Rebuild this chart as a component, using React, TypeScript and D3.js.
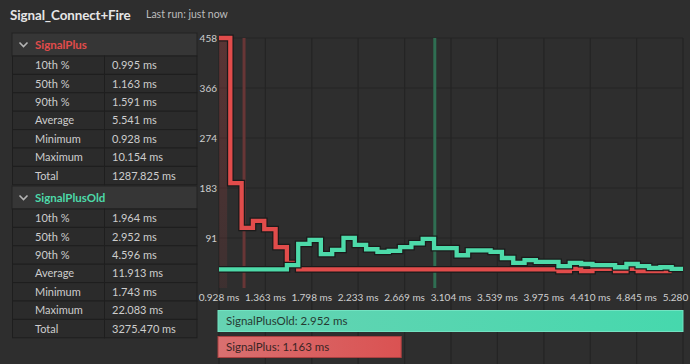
import React from "react";
import * as d3 from "d3";

const FONT = "Lato, 'Noto Sans', sans-serif";

const titleText = "Signal_Connect+Fire";
const subtitleText = "Last run: just now";

const seriesNames = ["SignalPlus", "SignalPlusOld"];
const seriesColors = ["#e14c4b", "#4ddaa9"];
const seriesMedians = [1.163, 2.952];
const signalPlusMin = 0.928;
const signalPlusP10 = 0.995;

const statLabels = ["10th %", "50th %", "90th %", "Average", "Minimum", "Maximum", "Total"];
const signalPlusStats = ["0.995 ms", "1.163 ms", "1.591 ms", "5.541 ms", "0.928 ms", "10.154 ms", "1287.825 ms"];
const signalPlusOldStats = ["1.964 ms", "2.952 ms", "4.596 ms", "11.913 ms", "1.743 ms", "22.083 ms", "3275.470 ms"];

const xTickValues = [0.928, 1.363, 1.798, 2.233, 2.669, 3.104, 3.539, 3.975, 4.41, 4.845, 5.28];
const xTickLabels = ["0.928 ms", "1.363 ms", "1.798 ms", "2.233 ms", "2.669 ms", "3.104 ms", "3.539 ms", "3.975 ms", "4.410 ms", "4.845 ms", "5.280 ms"];
const yTickValues = [91.6, 183.2, 274.8, 366.4, 458];
const yTickLabels = ["91", "183", "274", "366", "458"];

const binCount = 41;

// histogram counts per bin
const signalPlusCounts = [
  458, 192, 110, 123, 108, 75, 46, 34, 34, 34,
  34, 34, 34, 34, 34, 34, 34, 34, 34, 34,
  34, 34, 34, 34, 34, 34, 34, 34, 34, 34,
  31, 35, 31, 35, 35, 31, 35, 31, 31, 31,
];
const signalPlusOldCounts = [
  34, 34, 34, 34, 34, 34, 42, 81, 88, 62,
  70, 92, 79, 71, 66, 68, 75, 82, 90, 73,
  73, 60, 69, 69, 66, 55, 46, 51, 48, 48,
  40, 46, 44, 42, 42, 38, 44, 40, 37, 38,
  35,
];

export default function App() {
  const W = 690;
  const H = 364;
  const x = d3.scaleLinear().domain([xTickValues[0], xTickValues[xTickValues.length - 1]]).range([219, 683]);
  const y = d3.scaleLinear().domain([0, 458]).range([288, 38]);
  const binW = (x.domain()[1] - x.domain()[0]) / binCount;
  const xBar = d3.scaleLinear().domain([0, d3.max(seriesMedians) as number]).range([218, 683]);

  const line = d3.line<[number, number]>().curve(d3.curveStepAfter);
  const toPts = (counts: number[]): [number, number][] => {
    const pts: [number, number][] = counts.map((c, i) => [x(x.domain()[0] + i * binW), y(c)]);
    pts.push([x(x.domain()[0] + counts.length * binW), y(counts[counts.length - 1])]);
    return pts;
  };
  const series = [signalPlusCounts, signalPlusOldCounts];

  const rowH = 18.4;
  const tables = [
    { name: seriesNames[0], color: seriesColors[0], stats: signalPlusStats, top: 33 },
    { name: seriesNames[1], color: seriesColors[1], stats: signalPlusOldStats, top: 186 },
  ];

  return (
    <div style={{ position: "fixed", left: 0, top: 0, width: W, height: H, background: "#2e2e2e", overflow: "hidden" }}>
      <svg width={W} height={H} style={{ display: "block", fontFamily: FONT }}>
        <defs>
          <linearGradient id="shade" x1="0" y1="0" x2="0" y2="1">
            <stop offset="0" stopColor="#c84646" stopOpacity={0.28} />
            <stop offset="1" stopColor="#c84646" stopOpacity={0.1} />
          </linearGradient>
          <linearGradient id="gBar" x1="0" y1="0" x2="1" y2="0">
            <stop offset="0" stopColor="#66d3b3" />
            <stop offset="1" stopColor="#46d8ad" />
          </linearGradient>
          <linearGradient id="rBar" x1="0" y1="0" x2="1" y2="0">
            <stop offset="0" stopColor="#d97070" />
            <stop offset="1" stopColor="#da5252" />
          </linearGradient>
        </defs>
        <rect x={0} y={0} width={W} height={H} fill="#2e2e2e" />

        {/* Title */}
        <text x={10} y={19.5} fill="#e6e6e6" fontSize={13.4} fontWeight={700} letterSpacing={-0.1}>{titleText}</text>
        <text x={146} y={18} fill="#bdbdbd" fontSize={10.5}>{subtitleText}</text>

        {/* Tables */}
        {tables.map((t, ti) => (
          <g key={ti}>
            <rect x={12} y={t.top} width={185} height={23} fill="#363636" stroke="#222" />
            <path d={`M19.5,${t.top + 9.5} L23.5,${t.top + 13.5} L27.5,${t.top + 9.5}`} fill="none" stroke="#b5b5b5" strokeWidth={1.6} />
            <text x={35} y={t.top + 15.5} fill={t.color} fontSize={11.5} fontWeight={700}>{t.name}</text>
            {statLabels.map((lab, i) => {
              const ry = t.top + 23 + i * rowH;
              return (
                <g key={i}>
                  <rect x={12.5} y={ry} width={92} height={rowH} fill="#2b2b2b" stroke="#1e1e1e" />
                  <rect x={104.5} y={ry} width={92.5} height={rowH} fill="#2b2b2b" stroke="#1e1e1e" />
                  <text x={35} y={ry + rowH / 2 + 4} fill="#cdcdcd" fontSize={11}>{lab}</text>
                  <text x={112} y={ry + rowH / 2 + 4} fill="#cdcdcd" fontSize={11}>{t.stats[i]}</text>
                </g>
              );
            })}
          </g>
        ))}

        {/* grid */}
        {xTickValues.map((v, i) => (
          <line key={"vx" + i} x1={x(v)} x2={x(v)} y1={38} y2={H} stroke="#242424" strokeWidth={1.2} />
        ))}
        {yTickValues.map((v, i) => (
          <line key={"hy" + i} x1={219} x2={683} y1={y(v)} y2={y(v)} stroke="#242424" strokeWidth={1.2} />
        ))}

        {/* shaded range (min..p10 of SignalPlus) */}
        <rect x={x(signalPlusMin)} y={38} width={x(signalPlusP10) - x(signalPlusMin) + 1} height={250} fill="url(#shade)" />

        {/* median markers */}
        <line x1={x(seriesMedians[0])} x2={x(seriesMedians[0])} y1={38} y2={288} stroke="#683636" strokeWidth={3} />
        <line x1={x(seriesMedians[1])} x2={x(seriesMedians[1])} y1={38} y2={288} stroke="#2f6e52" strokeWidth={3} />

        {/* axis labels */}
        {yTickValues.map((v, i) => (
          <text key={"yl" + i} x={217} y={y(v) + 3.5} textAnchor="end" fill="#cfcfcf" fontSize={10}>{yTickLabels[i]}</text>
        ))}
        {xTickValues.map((v, i) => (
          <text key={"xl" + i} x={x(v)} y={301} textAnchor="middle" fill="#cfcfcf" fontSize={10}>{xTickLabels[i]}</text>
        ))}

        {/* lines */}
        {series.map((s, i) => (
          <g key={"s" + i}>
            <path d={line(toPts(s)) as string} fill="none" stroke="#1b1b1b" strokeWidth={6.8} strokeLinejoin="miter" />
            <path d={line(toPts(s)) as string} fill="none" stroke={seriesColors[i]} strokeWidth={4.3} strokeLinejoin="miter" />
          </g>
        ))}

        {/* median bars */}
        <rect x={xBar(0)} y={310.5} width={xBar(seriesMedians[1]) - xBar(0)} height={21} fill="url(#gBar)" stroke="#72e3c2" />
        <text x={226} y={325} fill="#263b33" fontSize={11.5}>{`${seriesNames[1]}: ${seriesMedians[1].toFixed(3)} ms`}</text>
        <rect x={xBar(0)} y={336.5} width={xBar(seriesMedians[0]) - xBar(0)} height={21} fill="url(#rBar)" stroke="#a94040" />
        <text x={226} y={351} fill="#3a2525" fontSize={11.5}>{`${seriesNames[0]}: ${seriesMedians[0].toFixed(3)} ms`}</text>
      </svg>
    </div>
  );
}
